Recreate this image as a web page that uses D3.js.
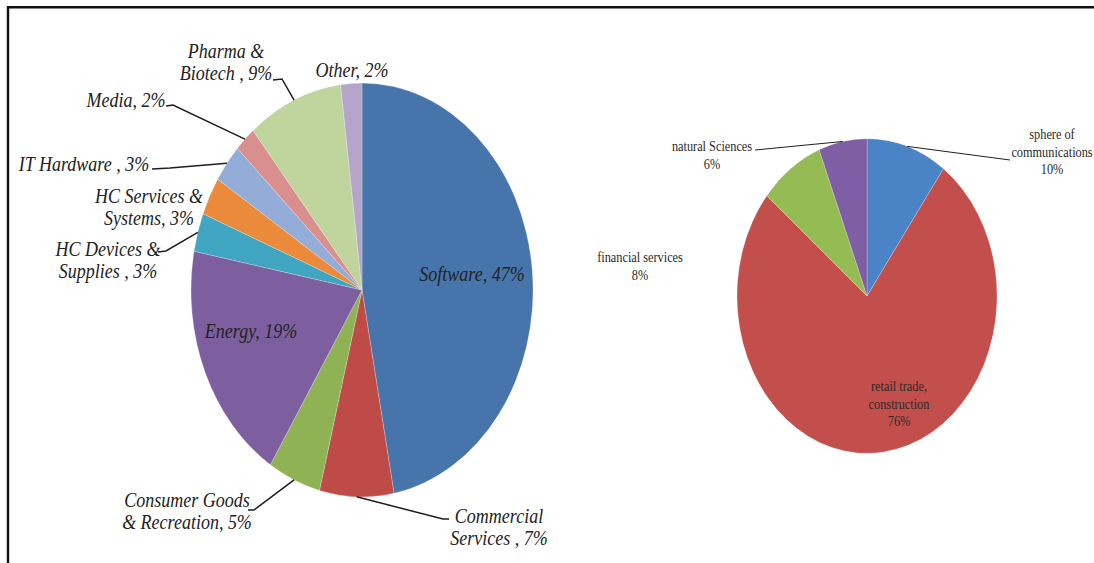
<!DOCTYPE html>
<html>
<head>
<meta charset="utf-8">
<script src="https://cdn.jsdelivr.net/npm/d3@7"></script>
<style>
  body { margin: 0; background: #fff; }
  svg { display: block; }
</style>
</head>
<body>
<svg id="chart" width="1094" height="563"></svg>
<script>
// ---- Left pie: investment by sector (%), clockwise from 12 o'clock ----
const sectorLabelLines = [
  ["Software, "],
  ["Commercial", "Services , "],
  ["Consumer Goods", "& Recreation, "],
  ["Energy, "],
  ["HC Devices &", "Supplies , "],
  ["HC Services &", "Systems, "],
  ["IT Hardware , "],
  ["Media, "],
  ["Pharma &", "Biotech , "],
  ["Other, "]
];
const sectorShares = [47, 7, 5, 19, 3, 3, 3, 2, 9, 2];
const sectorColors = ["#4674ab", "#be4b48", "#8fb254", "#7d5fa0", "#3fa5c0",
                      "#ea8a3a", "#93acd8", "#da8f8f", "#bfd59d", "#b6a5cb"];

// ---- Right pie: distribution by field of activity (%) ----
const fieldLabelLines = [
  ["sphere of", "communications"],
  ["retail trade,", "construction"],
  ["financial services"],
  ["natural Sciences"]
];
const fieldShares = [10, 76, 8, 6];
const fieldColors = ["#4a84c7", "#c24f4c", "#95bb54", "#7f5ea6"];

// ---- layout ----
const svg = d3.select("#chart");
const STRETCH = 1.21;   // vertical stretch applied to both pies and their text

// frame (top and left rule)
svg.append("line").attr("x1", 7).attr("x2", 1094).attr("y1", 7.2).attr("y2", 7.2)
  .attr("stroke", "#111").attr("stroke-width", 2.4);
svg.append("line").attr("x1", 8).attr("x2", 8).attr("y1", 6).attr("y2", 563)
  .attr("stroke", "#111").attr("stroke-width", 2.4);

function drawPie(cfg) {
  const pie = d3.pie().sort(null).value(d => d);
  const arcs = pie(cfg.values);
  const arc = d3.arc().innerRadius(0).outerRadius(cfg.r);
  const g = svg.append("g")
    .attr("transform", `translate(${cfg.cx},${cfg.cy}) scale(1,${STRETCH})`);
  g.selectAll("path").data(arcs).join("path")
    .attr("d", arc)
    .attr("fill", (d, i) => cfg.colors[i])
    .attr("stroke", "rgba(255,255,255,0.35)")
    .attr("stroke-width", 0.6);
  // point on the rim at the middle of each slice (screen coordinates)
  return arcs.map(a => {
    const m = (a.startAngle + a.endAngle) / 2;
    return [cfg.cx + cfg.r * Math.sin(m), cfg.cy - cfg.r * Math.cos(m) * STRETCH];
  });
}

function drawLabel(lines, pos, font) {
  lines.forEach((t, j) => {
    svg.append("text")
      .attr("transform", `translate(${pos.x},${pos.y + j * font.lh}) scale(1,${STRETCH})`)
      .attr("text-anchor", pos.anchor || "middle")
      .attr("font-family", "'Liberation Serif', 'Times New Roman', serif")
      .attr("font-style", font.style)
      .attr("font-size", font.size)
      .attr("fill", font.color)
      .text(t);
  });
}

function drawLeader(points, rim, width) {
  svg.append("path")
    .attr("d", d3.line()(points.concat([rim])))
    .attr("fill", "none")
    .attr("stroke", "#1e1e1e")
    .attr("stroke-width", width);
}

// ---- left pie ----
const leftRim = drawPie({ cx: 362, cy: 290, r: 171, values: sectorShares, colors: sectorColors });

// label placement (x = centre of text block, y = first baseline) and leader elbows
const sectorLayout = [
  { x: 472, y: 281 },
  { x: 499, y: 523, lead: [[449, 519], [443, 519]] },
  { x: 187, y: 507, lead: [[248, 510], [254, 510]] },
  { x: 251, y: 338 },
  { x: 108, y: 256, lead: [[158, 252], [166, 251]] },
  { x: 149, y: 203 },
  { x: 84,  y: 171, lead: [[152, 169], [170, 168]] },
  { x: 126, y: 107, lead: [[166, 106], [173, 105]] },
  { x: 226, y: 58,  lead: [[273, 80], [282, 79]] },
  { x: 352, y: 77 }
];
const leftFont = { size: 18, style: "italic", color: "#222", lh: 22 };

sectorLabelLines.forEach((lines, i) => {
  const full = lines.slice();
  full[full.length - 1] = full[full.length - 1] + sectorShares[i] + "%";
  const pos = sectorLayout[i];
  drawLabel(full, pos, leftFont);
  if (pos.lead) drawLeader(pos.lead, leftRim[i], 1.5);
});

// ---- right pie ----
const rightRim = drawPie({ cx: 867, cy: 296, r: 130, values: fieldShares, colors: fieldColors });

const fieldLayout = [
  { x: 1052, y: 139, lead: [[1010, 160]] },
  { x: 899,  y: 391 },
  { x: 640,  y: 262 },
  { x: 712,  y: 151, lead: [[755, 150]] }
];
const rightFont = { size: 12.3, style: "normal", color: "#2a2a2a", lh: 17.5 };

fieldLabelLines.forEach((lines, i) => {
  const full = lines.concat([fieldShares[i] + "%"]);
  const pos = fieldLayout[i];
  drawLabel(full, pos, rightFont);
  if (pos.lead) drawLeader(pos.lead, rightRim[i], 1);
});
</script>
</body>
</html>
